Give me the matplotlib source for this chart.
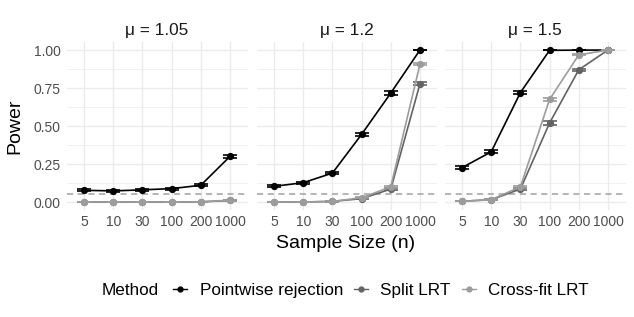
import numpy as np
import matplotlib
matplotlib.use("Agg")
import matplotlib.pyplot as plt
from matplotlib.lines import Line2D
from matplotlib.offsetbox import HPacker

plt.rcParams['font.family'] = ['Liberation Sans', 'DejaVu Sans']

sample_sizes = ["5", "10", "30", "100", "200", "1000"]
mu_labels = ["μ = 1.05", "μ = 1.2", "μ = 1.5"]
methods = ["Pointwise rejection", "Split LRT", "Cross-fit LRT"]
colors = ["#000000", "#636363", "#9C9C9C"]

# power values per panel (mu) and method
pointwise = [
    [0.077, 0.073, 0.080, 0.088, 0.110, 0.300],
    [0.103, 0.127, 0.190, 0.445, 0.717, 1.000],
    [0.226, 0.330, 0.720, 0.998, 0.999, 1.000],
]
split_lrt = [
    [0.000, 0.000, 0.000, 0.000, 0.001, 0.010],
    [0.000, 0.000, 0.004, 0.022, 0.085, 0.778],
    [0.005, 0.015, 0.085, 0.520, 0.870, 1.000],
]
crossfit_lrt = [
    [0.000, 0.000, 0.000, 0.000, 0.001, 0.012],
    [0.000, 0.000, 0.004, 0.028, 0.100, 0.907],
    [0.005, 0.015, 0.100, 0.675, 0.968, 1.000],
]
alpha_level = 0.05
n_sim = 2000

series = [pointwise, split_lrt, crossfit_lrt]

W, H = 6.34, 3.17
fig = plt.figure(figsize=(W, H), dpi=100)

panel_left = [66.5, 256.5, 444.5]
panel_w = 181.0
top_px, bot_px = 42.4, 209.6

x = np.arange(len(sample_sizes))
axes = []
for i in range(3):
    ax = fig.add_axes([panel_left[i] / 634, 1 - bot_px / 317, panel_w / 634, (bot_px - top_px) / 317])
    axes.append(ax)
    ax.set_facecolor("white")
    for s in ax.spines.values():
        s.set_visible(False)
    ax.set_xlim(-0.6, len(sample_sizes) - 1 + 0.6)
    ax.set_ylim(-0.05, 1.05)
    ax.set_yticks([0, 0.25, 0.5, 0.75, 1.0])
    ax.set_yticks([0.125, 0.375, 0.625, 0.875], minor=True)
    ax.set_xticks(x)
    ax.set_xticklabels(sample_sizes)
    ax.grid(True, which="major", color="#EBEBEB", linewidth=1.0)
    ax.grid(True, which="minor", axis="y", color="#EBEBEB", linewidth=0.5)
    ax.set_axisbelow(True)
    ax.tick_params(axis="both", which="both", length=0, labelsize=10, labelcolor="#4D4D4D", pad=4)
    if i == 0:
        ax.set_yticklabels(["0.00", "0.25", "0.50", "0.75", "1.00"])
    else:
        ax.tick_params(axis="y", labelleft=False)
    ax.axhline(alpha_level, color="#A0A0A0", linestyle=(0, (4, 3)), linewidth=1.1, zorder=1)
    for m, (vals, col) in enumerate(zip(series, colors)):
        p = np.array(vals[i])
        se = np.sqrt(p * (1 - p) / n_sim)
        ax.errorbar(x, p, yerr=se, color=col, linewidth=1.2, marker="o", markersize=4.2,
                    capsize=5.2, capthick=1.2, elinewidth=1.2, zorder=2 + m)
    ax.set_title(mu_labels[i], fontsize=12.4, color="#1A1A1A", pad=5)

fig.text(15 / 634, 1 - 126 / 317, "Power", rotation=90, ha="center", va="center", fontsize=14)
fig.text((66.5 + 625.5) / 2 / 634, 1 - 243 / 317, "Sample Size (n)", ha="center", va="center", fontsize=14)

handles = [Line2D([0], [0], color=c, marker="o", markersize=3.5, linewidth=1.0) for c in colors]
leg = fig.legend(handles, methods, loc="center", bbox_to_anchor=(345.5 / 634, 1 - 290.5 / 317), ncol=3,
                 frameon=False, fontsize=12.3, handlelength=0.8, handletextpad=0.75, columnspacing=0.65,
                 title="Method", title_fontsize=12.3, borderpad=0)
title_box = leg._legend_title_box
entries = leg._legend_box.get_children()[1]
leg._legend_box._children = [HPacker(pad=0, sep=10, children=[title_box, entries], align="center")]

fig.savefig("out.png", dpi=100, facecolor="white")
